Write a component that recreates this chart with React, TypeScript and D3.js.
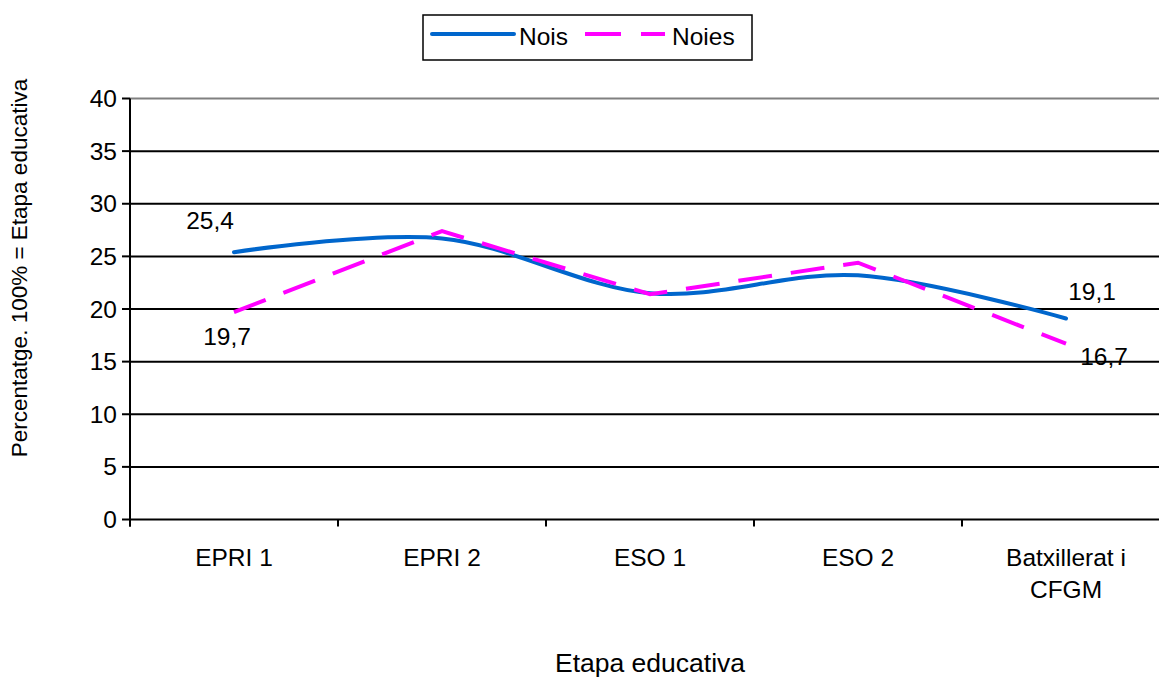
import React from "react";
import * as d3 from "d3";

const categories: string[][] = [["EPRI 1"], ["EPRI 2"], ["ESO 1"], ["ESO 2"], ["Batxillerat i", "CFGM"]];
const nois: number[] = [25.4, 26.7, 21.5, 23.2, 19.1];
const noies: number[] = [19.7, 27.4, 21.4, 24.4, 16.7];
const yTicks: number[] = [0, 5, 10, 15, 20, 25, 30, 35, 40];
const labels = [
  { series: "nois", idx: 0, text: "25,4", dx: -24, dy: -23 },
  { series: "noies", idx: 0, text: "19,7", dx: -7, dy: 33 },
  { series: "nois", idx: 4, text: "19,1", dx: 26, dy: -18.5 },
  { series: "noies", idx: 4, text: "16,7", dx: 38, dy: 21 },
];

const W = 1159;
const H = 678;
const FONT = "'Liberation Sans', Arial, sans-serif";
const FS = 24.5;

export default function App() {
  const keys = categories.map((c) => c.join(" "));
  const x = d3.scaleBand<string>().domain(keys).range([130, 1170]).padding(0);
  const y = d3.scaleLinear().domain([0, 40]).range([519.5, 98.5]);
  const cx = (i: number) => (x(keys[i]) as number) + x.bandwidth() / 2;

  const noisLine = d3
    .line<number>()
    .x((_, i) => cx(i))
    .y((d) => y(d))
    .curve(d3.curveCardinal.tension(0));
  const noiesLine = d3
    .line<number>()
    .x((_, i) => cx(i))
    .y((d) => y(d));

  const x0 = 130;
  const y0 = y(0);

  return (
    <svg width={W} height={H} style={{ position: "absolute", left: 0, top: 0, background: "#fff" }} fontFamily={FONT}>
      {yTicks.map((t) => (
        <line key={"g" + t} x1={x0} x2={1170} y1={y(t)} y2={y(t)} stroke={t === 40 ? "#808080" : "#000"} strokeWidth={2} />
      ))}
      <line x1={x0} x2={x0} y1={y(40)} y2={y0 + 7} stroke="#000" strokeWidth={2} />
      {yTicks.map((t) => (
        <g key={"yt" + t}>
          <line x1={x0 - 8} x2={x0} y1={y(t)} y2={y(t)} stroke="#000" strokeWidth={2} />
          <text x={117} y={y(t)} dy="0.35em" textAnchor="end" fontSize={FS}>
            {t}
          </text>
        </g>
      ))}
      {keys.map((k) => (
        <line key={"xt" + k} x1={x(k) as number} x2={x(k) as number} y1={y0} y2={y0 + 7} stroke="#000" strokeWidth={2} />
      ))}
      {categories.map((c, i) => (
        <text key={"xl" + i} x={cx(i)} y={566} textAnchor="middle" fontSize={FS}>
          {c.map((line, j) => (
            <tspan key={j} x={cx(i)} dy={j === 0 ? 0 : 32}>
              {line}
            </tspan>
          ))}
        </text>
      ))}
      <path d={noisLine(nois) || ""} fill="none" stroke="#0066CC" strokeWidth={4} strokeLinecap="round" />
      <path d={noiesLine(noies) || ""} fill="none" stroke="#FF00FF" strokeWidth={4} strokeDasharray="34 19" />
      {labels.map((l, i) => {
        const v = l.series === "nois" ? nois[l.idx] : noies[l.idx];
        return (
          <text key={"dl" + i} x={cx(l.idx) + l.dx} y={y(v) + l.dy} textAnchor="middle" fontSize={FS}>
            {l.text}
          </text>
        );
      })}
      <rect x={423} y={15} width={329} height={45} fill="#fff" stroke="#000" strokeWidth={1.5} />
      <line x1={432} x2={514} y1={34} y2={34} stroke="#0066CC" strokeWidth={4} strokeLinecap="round" />
      <text x={519} y={45} fontSize={FS}>Nois</text>
      <line x1={585} x2={665} y1={34} y2={34} stroke="#FF00FF" strokeWidth={4} strokeDasharray="36 20" />
      <text x={672} y={45} fontSize={FS}>Noies</text>
      <text x={650} y={672} textAnchor="middle" fontSize={26.5}>Etapa educativa</text>
      <text transform={`translate(27,${268}) rotate(-90)`} textAnchor="middle" fontSize={22.5}>
        Percentatge. 100% = Etapa educativa
      </text>
    </svg>
  );
}
